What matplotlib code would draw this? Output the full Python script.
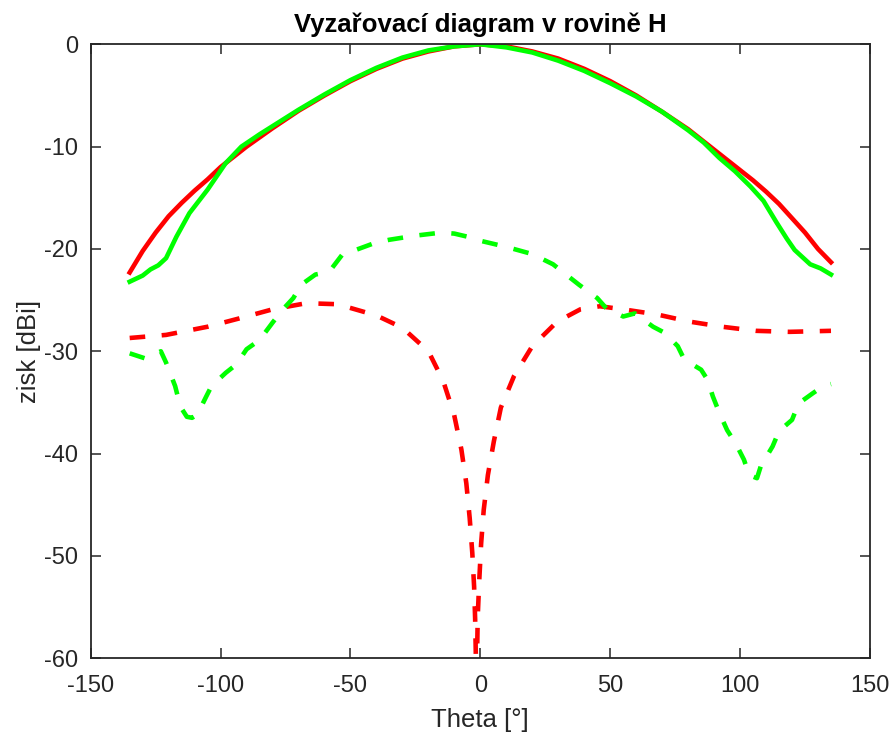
import numpy as np
import matplotlib
matplotlib.use("Agg")
from matplotlib import pyplot as plt

plt.rcParams['font.family'] = ['Liberation Sans', 'DejaVu Sans']
plt.rcParams['axes.unicode_minus'] = False

# red solid (co-pol, one port)
red_th = [-135, -130, -125, -120, -115, -110, -105, -100, -95, -90, -80, -70, -60, -50, -40, -30, -20, -10,
          0, 10, 20, 30, 40, 50, 60, 70, 80, 90, 100, 105, 110, 115, 120, 125, 130, 135]
red_co = [-22.3, -20.2, -18.4, -16.8, -15.5, -14.3, -13.2, -12.0, -11.0, -10.0, -8.2, -6.5, -5.0, -3.6, -2.4, -1.4, -0.7, -0.2,
          0.0, -0.2, -0.7, -1.4, -2.4, -3.6, -5.0, -6.6, -8.3, -10.3, -12.3, -13.3, -14.4, -15.6, -17.0, -18.4, -20.0, -21.3]

# green solid
grn_th = [-135, -130, -127, -124, -121, -117, -112, -105, -98, -92, -85, -80, -70, -60, -50, -40, -30, -20, -10,
          0, 10, 20, 30, 40, 50, 60, 70, 80, 86, 92, 98, 104, 109, 114, 118, 121, 124, 127, 131, 135]
grn_co = [-23.2, -22.6, -22.0, -21.6, -20.9, -18.8, -16.5, -14.2, -11.6, -10.0, -8.8, -8.0, -6.4, -4.9, -3.5, -2.3, -1.3, -0.6, -0.2,
          0.0, -0.3, -0.8, -1.6, -2.6, -3.8, -5.1, -6.6, -8.4, -9.6, -11.1, -12.4, -13.9, -15.3, -17.4, -19.0, -20.1, -20.8, -21.5, -21.9, -22.5]

# red dashed (cross-pol)
redx_th = [-135, -121, -105, -93, -80, -67, -55, -40, -30, -20, -14.3, -10.1, -7.3, -5.4, -4.1, -3.1, -2.4, -2.0, -1.5,
           -1.0, -0.4, 0.3, 1.3, 2.9, 5.2, 7.9, 13, 20, 29.6, 38.5, 46, 55, 68, 80.5, 93, 106, 119, 135]
redx = [-28.7, -28.4, -27.6, -26.8, -25.9, -25.3, -25.4, -26.5, -27.7, -30.0, -32.9, -36.2, -39.6, -42.9, -46.3, -49.7, -53.0, -56.2, -63.0,
        -55.9, -52.3, -48.8, -45.5, -42.1, -38.8, -35.5, -32.4, -29.5, -27.1, -25.9, -25.6, -25.9, -26.4, -27.1, -27.6, -28.0, -28.1, -28.0]

# green dashed
grnx_th = [-135, -129, -123, -121, -117.5, -115.5, -113, -111, -109, -105.5, -103.5, -98, -94, -90, -85, -80, -76, -72, -69, -63.5,
           -59.5, -57.5, -53, -48, -40.5, -35, -25, -15, -10, -5, 0, 10, 20, 28, 34, 38, 45, 48.5, 55, 59.5, 66.5, 71, 76, 78.5,
           85, 87.5, 89.5, 92, 95, 98.5, 101.5, 103.5, 106.5, 108, 112.5, 115, 120, 122.5, 128, 132, 135]
grnx = [-30.2, -30.7, -30.0, -31.1, -33.4, -35.4, -36.4, -36.5, -36.2, -34.4, -33.4, -32.1, -31.3, -29.8, -28.9, -27.2, -25.9, -24.8, -23.5, -22.5,
        -22.3, -22.0, -20.5, -20.1, -19.4, -19.1, -18.7, -18.4, -18.5, -18.8, -19.2, -19.8, -20.5, -21.5, -22.7, -23.5, -24.8, -25.8, -26.6, -26.3,
        -27.6, -28.2, -29.5, -30.8, -31.8, -32.8, -34.4, -36.0, -37.7, -39.1, -40.6, -42.1, -42.4, -41.2, -39.3, -37.8, -36.7, -35.1, -34.1, -33.4, -33.2]

fig = plt.figure(figsize=(8.93, 7.32), dpi=100)
ax = fig.add_axes([0.1016, 0.1007, 0.8726, 0.8388])

dash = (0, (3.4, 3.6))
ax.plot(red_th, red_co, color='#ff0000', lw=3.3)
ax.plot(grn_th, grn_co, color='#00ff00', lw=3.3)
ax.plot(redx_th, redx, color='#ff0000', lw=3.3, linestyle=dash)
ax.plot(grnx_th, grnx, color='#00ff00', lw=3.3, linestyle=dash)

ax.set_xlim(-150, 150)
ax.set_ylim(-60, 0)
ax.set_xticks(np.arange(-150, 151, 50))
ax.set_yticks(np.arange(-60, 1, 10))
ax.tick_params(direction='in', length=7, width=1.1, colors='#262626', labelsize=17,
               top=True, right=True, labelcolor='#262626')
ax.tick_params(axis='y', pad=9)
ax.tick_params(axis='x', pad=12)
for s in ax.spines.values():
    s.set_color('#262626')
    s.set_linewidth(1.3)

ax.set_xlabel('Theta [°]', fontsize=18.5, color='#262626', labelpad=8)
ax.set_ylabel('zisk [dBi]', fontsize=18.5, color='#262626', labelpad=2)
ax.set_title('Vyzařovací diagram v rovině H', fontsize=18.5, fontweight='bold', pad=9)

fig.savefig('out.png', dpi=100)
